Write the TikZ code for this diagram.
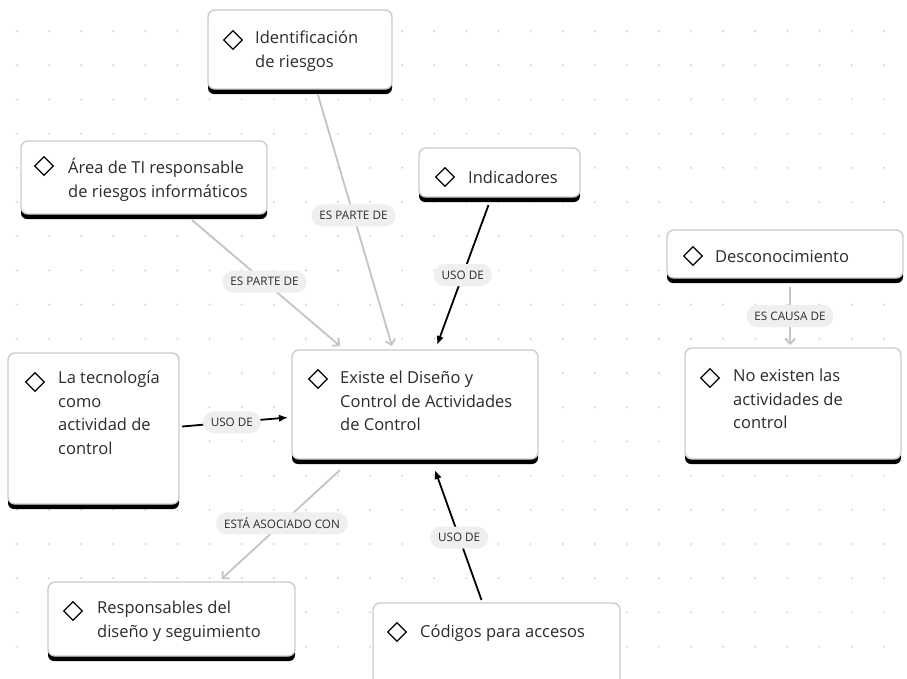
\documentclass[tikz,border=0pt]{standalone}
\usepackage{fontspec}
\setmainfont{Open Sans}
\usetikzlibrary{arrows.meta,shapes.geometric}
\definecolor{dotc}{HTML}{D4D4D4}
\definecolor{bordc}{HTML}{CCCCCC}
\definecolor{edgeg}{HTML}{C4C4C4}
\definecolor{txtc}{HTML}{2B2B2B}
\definecolor{pillc}{HTML}{EFEFEF}
\newcommand\conceptbox[5]{%
  \fill[black, rounded corners=6pt] (#2,#5-14) rectangle (#4,#5);
  \node[cbox, minimum width={#4-#2}, minimum height={#5-#3-5}] (#1) at (#2,#3) {};
}
\begin{document}
\begin{tikzpicture}[x=1pt,y=-1pt,
  cbox/.style={draw=bordc, line width=1.4pt, fill=white, rounded corners=7pt, anchor=north west, inner sep=0pt, outer sep=0pt},
  dia/.style={draw=black, line width=1.2pt, shape=diamond, minimum width=19pt, minimum height=19pt, inner sep=0pt, fill=white},
  txt/.style={anchor=north west, inner sep=0pt, align=left, text=txtc, font=\fontsize{16.5pt}{23.5pt}\selectfont, execute at begin node={\rule{0pt}{16pt}}},
  pill/.style={fill=pillc, rounded corners=11pt, inner xsep=8pt, inner ysep=0pt, minimum height=22pt, text=txtc, font=\fontsize{11.7pt}{13pt}\selectfont},
  gedge/.style={draw=edgeg, line width=1.8pt, -{Straight Barb[length=5pt,width=10pt]}},
  bedge/.style={draw=black, line width=1.8pt, -{Latex[length=9pt,width=7.5pt]}}
]
\fill[white] (0,0) rectangle (907,678);
\useasboundingbox (0,0) rectangle (907,678);
\foreach \i in {0,...,28}{\foreach \j in {0,...,19}{\fill[dotc] ({17+32.1*\i},{31+34.2*\j}) circle (1.1pt);}}

% boxes
\conceptbox{iden}{208}{10}{392}{94}
\conceptbox{area}{21}{141}{267}{219}
\conceptbox{ind}{419}{148}{580}{202}
\conceptbox{desc}{667}{230}{903}{283}
\conceptbox{noex}{685}{348}{901}{464}
\conceptbox{exist}{292}{350}{538}{464}
\conceptbox{tec}{8}{353}{179}{509}
\conceptbox{resp}{48}{582}{295}{661}
\conceptbox{cod}{373}{603}{620}{690}

% icons
\node[dia] (iden-d) at (233,40) {};
\node[dia] (area-d) at (44,166) {};
\node[dia] (ind-d) at (445,177) {};
\node[dia] (desc-d) at (693,256) {};
\node[dia] (noex-d) at (710,378) {};
\node[dia] (exist-d) at (318,379) {};
\node[dia] (tec-d) at (35,382) {};
\node[dia] (resp-d) at (73,611) {};
\node[dia] (cod-d) at (397,632) {};

% texts
\node[txt] (iden-t) at (255,47-16) {Identificación\\de riesgos};
\node[txt] (area-t) at (68,174-16) {Área de TI responsable\\de riesgos informáticos};
\node[txt] (ind-t) at (468,183-16) {Indicadores};
\node[txt] (desc-t) at (715,262-16) {Desconocimiento};
\node[txt] (noex-t) at (733,385-16) {No existen las\\actividades de\\control};
\node[txt] (exist-t) at (340,387-16) {Existe el Diseño y\\Control de Actividades\\de Control};
\node[txt] (tec-t) at (58,387-16) {La tecnología\\como\\actividad de\\control};
\node[txt] (resp-t) at (97,617-16) {Responsables del\\diseño y seguimiento};
\node[txt] (cod-t) at (420,637-16) {Códigos para accesos};

% connectors
\draw[gedge] ([xshift=18pt,yshift=-6pt]iden.south) -- node[pill,pos=0.48] (l1) {ES PARTE DE} ([xshift=-23pt,yshift=4pt]exist.north);
\draw[gedge] ([xshift=48pt,yshift=-6pt]area.south) -- node[pill,pos=0.49] (l2) {ES PARTE DE} ([xshift=-75pt,yshift=4pt]exist.north);
\draw[bedge] ([xshift=-11pt,yshift=-8pt]ind.south) -- node[pill,pos=0.5] (l3) {USO DE} ([xshift=22pt,yshift=5pt]exist.north);
\draw[bedge] ([xshift=3pt,yshift=2pt]tec.east) -- node[pill,pos=0.47] (l4) {USO DE} ([xshift=-4pt,yshift=-13pt]exist.west);
\draw[gedge] ([xshift=-75pt,yshift=-11pt]exist.south) -- node[pill,pos=0.49] (l5) {ESTÁ ASOCIADO CON} ([xshift=50pt,yshift=3pt]resp.north);
\draw[bedge] ([xshift=-15pt,yshift=3pt]cod.north) -- node[pill,pos=0.48] (l6) {USO DE} ([xshift=20pt,yshift=-11pt]exist.south);
\draw[gedge] ([xshift=5pt,yshift=-9pt]desc.south) -- node[pill,pos=0.5] (l7) {ES CAUSA DE} ([xshift=-3pt,yshift=3pt]noex.north);
\end{tikzpicture}
\end{document}
